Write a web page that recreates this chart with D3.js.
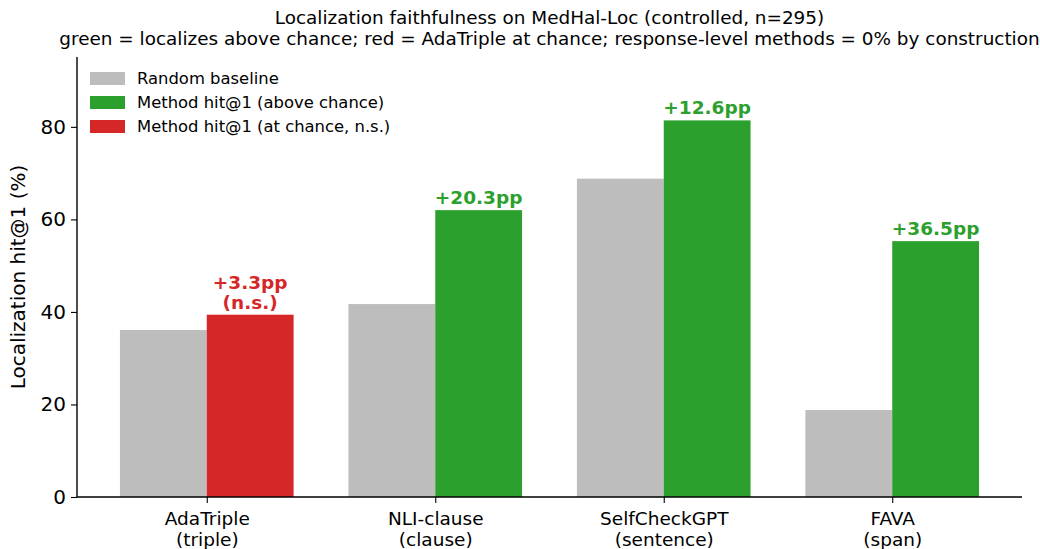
<!DOCTYPE html>
<html>
<head>
<meta charset="utf-8">
<script src="https://d3js.org/d3.v7.min.js"></script>
<style>
  body { margin: 0; background: #fff; }
  svg { font-family: "DejaVu Sans", sans-serif; }
</style>
</head>
<body>
<svg width="1040" height="549"></svg>
<script>
// chart data
var categories = ["AdaTriple\n(triple)", "NLI-clause\n(clause)", "SelfCheckGPT\n(sentence)", "FAVA\n(span)"];
var randomBaseline = [36.1, 41.7, 68.8, 18.8];
var methodHit = [39.4, 62.0, 81.4, 55.3];
var significant = [false, true, true, true];
var deltaLabels = ["+3.3pp\n(n.s.)", "+20.3pp", "+12.6pp", "+36.5pp"];
var yTicks = [0, 20, 40, 60, 80];

var GRAY = "#bdbdbd", GREEN = "#2ca02c", RED = "#d62728";

var svg = d3.select("svg"),
    margin = {top: 57, right: 18, bottom: 52, left: 77},
    width = 1040 - margin.left - margin.right,
    height = 549 - margin.top - margin.bottom,
    g = svg.append("g").attr("transform", "translate(" + margin.left + "," + margin.top + ")");

var bw = 0.38;
// x in category units, matplotlib-ish margins
var x = d3.scaleLinear()
    .domain([-bw - 0.188, categories.length - 1 + bw + 0.188])
    .range([0, width]);

var y = d3.scaleLinear()
    .domain([0, 95.1])
    .range([height, 0]);

// random baseline bars
g.append("g").selectAll("rect")
  .data(randomBaseline)
  .enter().append("rect")
    .attr("x", function(d, i){ return x(i - bw); })
    .attr("y", function(d){ return y(d); })
    .attr("width", function(d, i){ return x(i) - x(i - bw); })
    .attr("height", function(d){ return y(0) - y(d); })
    .attr("fill", GRAY);

// method bars
g.append("g").selectAll("rect")
  .data(methodHit)
  .enter().append("rect")
    .attr("x", function(d, i){ return x(i); })
    .attr("y", function(d){ return y(d); })
    .attr("width", function(d, i){ return x(i + bw) - x(i); })
    .attr("height", function(d){ return y(0) - y(d); })
    .attr("fill", function(d, i){ return significant[i] ? GREEN : RED; });

// delta annotations
var ann = g.append("g").selectAll("text")
  .data(methodHit)
  .enter().append("text")
    .attr("text-anchor", "middle")
    .attr("font-size", "18.5px")
    .attr("font-weight", "bold")
    .attr("fill", function(d, i){ return significant[i] ? GREEN : RED; })
    .attr("x", function(d, i){ return x(i + bw / 2); })
    .attr("y", function(d, i){
      var lines = deltaLabels[i].split("\n").length;
      return y(d) - 6 - (lines - 1) * 20;
    });
ann.each(function(d, i){
  var t = d3.select(this);
  deltaLabels[i].split("\n").forEach(function(s, k){
    t.append("tspan").attr("x", x(i + bw / 2)).attr("dy", k === 0 ? 0 : 20).text(s);
  });
});

// axes
var yAxis = g.append("g")
    .call(d3.axisLeft(y).tickValues(yTicks).tickSize(6).tickPadding(5));
yAxis.selectAll("text").attr("font-size", "20px").attr("font-family", "DejaVu Sans").attr("fill", "#000");
yAxis.selectAll("line").attr("stroke", "#000").attr("stroke-width", 1.1);
yAxis.select(".domain").attr("d", "M0," + height + "V0").attr("stroke-width", 1.4);

var xAxis = g.append("g")
    .attr("transform", "translate(0," + height + ")")
    .call(d3.axisBottom(x).tickValues(d3.range(categories.length)).tickSize(6).tickFormat(""));
xAxis.select(".domain").attr("d", "M0,0H" + width).attr("stroke-width", 1.4);
xAxis.selectAll("line").attr("stroke", "#000").attr("stroke-width", 1.1);

xAxis.selectAll(".tick").each(function(d, i){
  var t = d3.select(this).append("text")
    .attr("fill", "#000")
    .attr("font-size", "18.5px")
    .attr("font-family", "DejaVu Sans")
    .attr("text-anchor", "middle")
    .attr("y", 28);
  categories[i].split("\n").forEach(function(s, k){
    t.append("tspan").attr("x", 0).attr("dy", k === 0 ? 0 : 20.5).text(s);
  });
});

// y label
svg.append("text")
    .attr("transform", "translate(25," + (margin.top + height / 2) + ") rotate(-90)")
    .attr("text-anchor", "middle")
    .attr("font-size", "20px")
    .text("Localization hit@1 (%)");

// title
svg.append("text")
    .attr("x", 549.5).attr("y", 24)
    .attr("text-anchor", "middle")
    .attr("font-size", "18.4px")
    .text("Localization faithfulness on MedHal-Loc (controlled, n=295)");
svg.append("text")
    .attr("x", 549.5).attr("y", 45)
    .attr("text-anchor", "middle")
    .attr("font-size", "18.4px")
    .text("green = localizes above chance; red = AdaTriple at chance; response-level methods = 0% by construction");

// legend
var legendItems = [
  {label: "Random baseline", color: GRAY},
  {label: "Method hit@1 (above chance)", color: GREEN},
  {label: "Method hit@1 (at chance, n.s.)", color: RED}
];
var legend = svg.append("g").selectAll("g")
  .data(legendItems)
  .enter().append("g")
    .attr("transform", function(d, i){ return "translate(90," + (72 + i * 24) + ")"; });
legend.append("rect")
    .attr("width", 35).attr("height", 13)
    .attr("fill", function(d){ return d.color; });
legend.append("text")
    .attr("x", 47).attr("y", 6.5).attr("dy", "0.35em")
    .attr("font-size", "16.4px")
    .text(function(d){ return d.label; });
</script>
</body>
</html>
